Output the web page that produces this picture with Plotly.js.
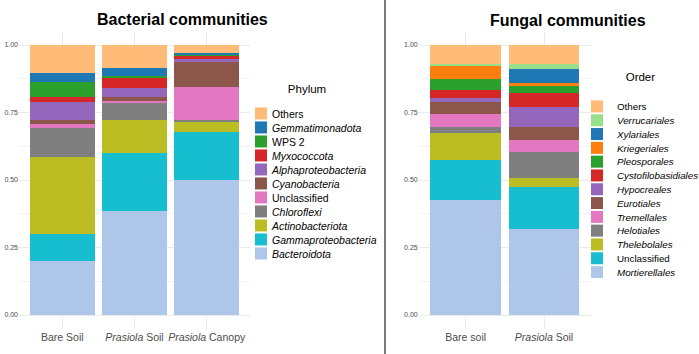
<!DOCTYPE html>
<html>
<head>
<meta charset="utf-8">
<script src="https://cdn.plot.ly/plotly-3.0.1.min.js"></script>
<style>html,body{margin:0;padding:0;background:#fff;}#chart{width:699px;height:354px;}</style>
</head>
<body>
<div id="chart"></div>
<script>
// ---- Bacterial communities (Phylum) ----
const bacSamples = ["Bare Soil", "<i>Prasiola</i> Soil", "<i>Prasiola</i> Canopy"];
// stacked bottom -> top
const bacPhyla = ["<i>Bacteroidota</i>", "<i>Gammaproteobacteria</i>", "<i>Actinobacteriota</i>", "<i>Chloroflexi</i>", "Unclassified", "<i>Cyanobacteria</i>", "<i>Alphaproteobacteria</i>", "<i>Myxococcota</i>", "WPS 2", "<i>Gemmatimonadota</i>", "Others"];
const bacColors = ["#aec7e8", "#17becf", "#bcbd22", "#7f7f7f", "#e377c2", "#8c564b", "#9467bd", "#d62728", "#2ca02c", "#1f77b4", "#ffbb78"];
const bacBacteroidota   = [0.201, 0.385, 0.500];
const bacGamma          = [0.099, 0.214, 0.178];
const bacActino         = [0.285, 0.123, 0.039];
const bacChloroflexi    = [0.109, 0.064, 0.006];
const bacUnclassified   = [0.015, 0.008, 0.123];
const bacCyano          = [0.014, 0.013, 0.096];
const bacAlpha          = [0.067, 0.035, 0.005];
const bacMyxo           = [0.017, 0.039, 0.017];
const bacWPS2           = [0.057, 0.005, 0.004];
const bacGemmat         = [0.032, 0.029, 0.001];
const bacOthers         = [0.104, 0.085, 0.031];
const bacValues = [bacBacteroidota, bacGamma, bacActino, bacChloroflexi, bacUnclassified, bacCyano, bacAlpha, bacMyxo, bacWPS2, bacGemmat, bacOthers];

// ---- Fungal communities (Order) ----
const funSamples = ["Bare soil", "<i>Prasiola</i> Soil"];
const funOrders = ["<i>Mortierellales</i>", "Unclassified", "<i>Thelebolales</i>", "<i>Helotiales</i>", "<i>Tremellales</i>", "<i>Eurotiales</i>", "<i>Hypocreales</i>", "<i>Cystofilobasidiales</i>", "<i>Pleosporales</i>", "<i>Kriegeriales</i>", "<i>Xylariales</i>", "<i>Verrucariales</i>", "Others"];
const funColors = ["#aec7e8", "#17becf", "#bcbd22", "#7f7f7f", "#e377c2", "#8c564b", "#9467bd", "#d62728", "#2ca02c", "#ff7f0e", "#1f77b4", "#98df8a", "#ffbb78"];
const funMortierellales = [0.426, 0.319];
const funUnclassified   = [0.149, 0.155];
const funThelebolales   = [0.100, 0.035];
const funHelotiales     = [0.021, 0.095];
const funTremellales    = [0.048, 0.044];
const funEurotiales     = [0.044, 0.048];
const funHypocreales    = [0.016, 0.074];
const funCystofilo      = [0.029, 0.051];
const funPleosporales   = [0.040, 0.027];
const funKriegeriales   = [0.049, 0.011];
const funXylariales     = [0.000, 0.052];
const funVerrucariales  = [0.009, 0.020];
const funOthers         = [0.069, 0.069];
const funValues = [funMortierellales, funUnclassified, funThelebolales, funHelotiales, funTremellales, funEurotiales, funHypocreales, funCystofilo, funPleosporales, funKriegeriales, funXylariales, funVerrucariales, funOthers];

const yTicks = [0, 0.25, 0.5, 0.75, 1];
const yTickText = ["0.00", "0.25", "0.50", "0.75", "1.00"];

const FONT = "Liberation Sans, Arial, Helvetica, sans-serif";
const W = 699, H = 354;

const traces = [];
bacPhyla.forEach((name, i) => {
  traces.push({
    type: "bar", x: bacSamples, y: bacValues[i], name: name,
    marker: {color: bacColors[i], line: {width: 0}},
    xaxis: "x", yaxis: "y", legend: "legend",
    hoverinfo: "name+y"
  });
});
funOrders.forEach((name, i) => {
  traces.push({
    type: "bar", x: funSamples, y: funValues[i], name: name,
    marker: {color: funColors[i], line: {width: 0}},
    xaxis: "x2", yaxis: "y2", legend: "legend2",
    hoverinfo: "name+y"
  });
});

function yAxis(anchor) {
  return {
    domain: [(H - 328.5) / H, (H - 31.5) / H],
    range: [-0.05, 1.05], anchor: anchor,
    tickvals: yTicks, ticktext: yTickText,
    tickfont: {family: FONT, size: 7, color: "#4d4d4d"},
    showgrid: true, gridcolor: "#ebebeb", gridwidth: 1,
    minor: {tickvals: [0.125, 0.375, 0.625, 0.875], showgrid: true, gridcolor: "#f3f3f3", gridwidth: 0.6},
    zeroline: false, showline: false, ticks: "", fixedrange: true
  };
}
function xAxis(dom, n, anchor) {
  return {
    domain: dom, range: [-0.6, n - 0.4], anchor: anchor,
    type: "category", tickangle: 0,
    tickfont: {family: FONT, size: 10.5, color: "#4d4d4d"},
    showgrid: true, gridcolor: "#ebebeb", gridwidth: 1,
    zeroline: false, showline: false, ticks: "", fixedrange: true,
    ticklabelstandoff: 1
  };
}

const layout = {
  width: W, height: H,
  margin: {l: 0, r: 0, t: 0, b: 0, autoexpand: false},
  paper_bgcolor: "#ffffff", plot_bgcolor: "#ffffff",
  font: {family: FONT, color: "#000"},
  barmode: "stack", bargap: 0.1,
  showlegend: true,
  xaxis: xAxis([19 / W, 250 / W], 3, "y"),
  yaxis: yAxis("x"),
  xaxis2: xAxis([418.7 / W, 591 / W], 2, "y2"),
  yaxis2: yAxis("x2"),
  legend: {
    x: 241 / W, xanchor: "left", y: (H - 78) / H, yanchor: "top",
    traceorder: "reversed", bgcolor: "rgba(0,0,0,0)",
    font: {family: FONT, size: 10.5, color: "#000"},
    title: {text: "Phylum", side: "top center", font: {family: FONT, size: 11.5, color: "#000"}},
    itemclick: false, itemdoubleclick: false
  },
  legend2: {
    x: 577 / W, xanchor: "left", y: (H - 66) / H, yanchor: "top",
    traceorder: "reversed", bgcolor: "rgba(0,0,0,0)",
    font: {family: FONT, size: 9.8, color: "#000"},
    title: {text: "Order", side: "top center", font: {family: FONT, size: 11.5, color: "#000"}},
    itemclick: false, itemdoubleclick: false
  },
  annotations: [
    {text: "<b>Bacterial communities</b>", xref: "paper", yref: "paper", x: 182 / W, y: (H - 19) / H,
     xanchor: "center", yanchor: "middle", showarrow: false, font: {family: FONT, size: 16, color: "#000"}},
    {text: "<b>Fungal communities</b>", xref: "paper", yref: "paper", x: 568 / W, y: (H - 20) / H,
     xanchor: "center", yanchor: "middle", showarrow: false, font: {family: FONT, size: 16, color: "#000"}}
  ],
  shapes: [
    {type: "line", xref: "paper", yref: "paper", x0: 385 / W, x1: 385 / W, y0: 0, y1: 1,
     line: {color: "#7a7a7a", width: 2}}
  ]
};

// tighten legend rows to match the compact ggplot key spacing
function compactLegend(gd, cls, delta, step, dx, titleDx) {
  const g = gd.querySelector("g." + cls);
  if (!g) return;
  const items = Array.from(g.querySelectorAll("g.traces")).map(it => {
    const m = /translate\(\s*([-\d.e]+)[ ,]+([-\d.e]+)\s*\)/.exec(it.getAttribute("transform") || "");
    return m ? {el: it, x: parseFloat(m[1]), y: parseFloat(m[2])} : null;
  }).filter(Boolean).sort((a, b) => a.y - b.y);
  if (!items.length) return;
  const y0 = items[0].y;
  items.forEach((it, i) => {
    it.el.setAttribute("transform", "translate(" + it.x + "," + (y0 + delta + i * step) + ")");
    const t = it.el.querySelector("text.legendtext");
    if (t) t.setAttribute("x", parseFloat(t.getAttribute("x") || 40) + dx);
  });
  const title = g.querySelector("text.legendtitletext");
  if (title) title.setAttribute("x", parseFloat(title.getAttribute("x") || 0) + titleDx);
}

Plotly.newPlot("chart", traces, layout, {displayModeBar: false}).then(gd => {
  compactLegend(gd, "legend", 6, 14, -9, -9);
  compactLegend(gd, "legend2", 11, 13.8, -7, -8);
});
</script>
</body>
</html>
